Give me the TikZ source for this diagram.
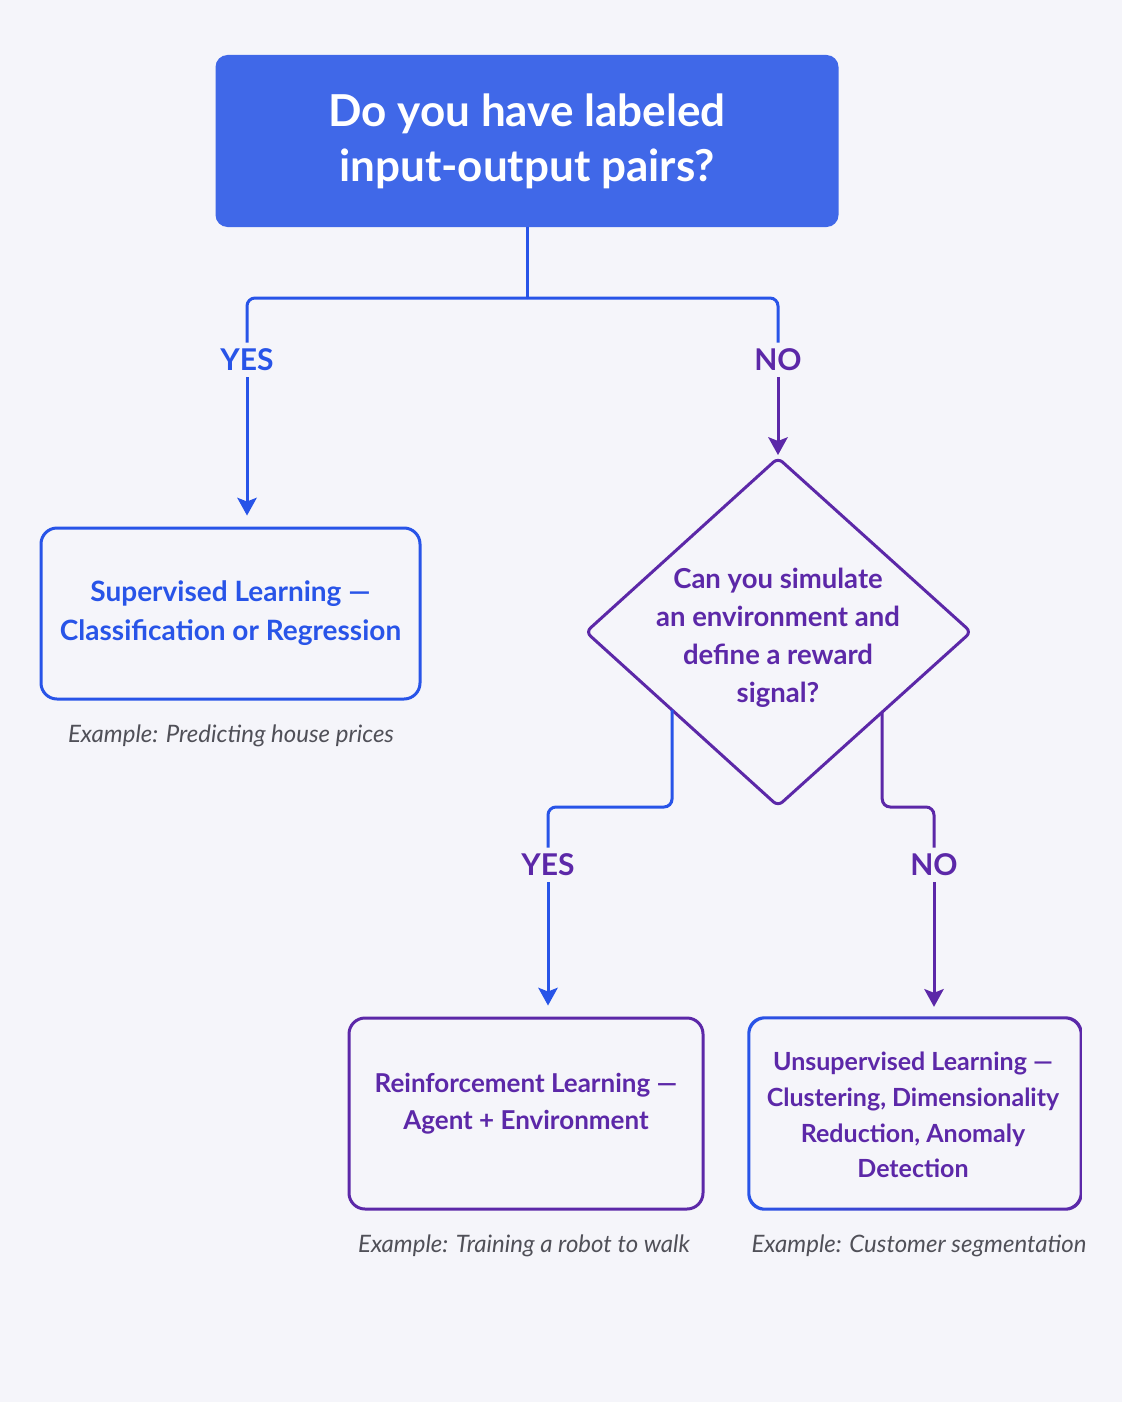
\documentclass[tikz,border=0pt]{standalone}
\usepackage{fontspec}
\setmainfont{Lato}
\usetikzlibrary{arrows.meta,calc}
\definecolor{bg}{RGB}{245,245,250}
\definecolor{topblue}{RGB}{64,104,232}
\definecolor{bblue}{RGB}{40,84,232}
\definecolor{purp}{RGB}{92,40,168}
\definecolor{capgray}{RGB}{80,80,88}
\tikzset{
  conn/.style={line width=3pt},
  arr/.style={line width=3pt,-{Stealth[length=18pt,width=20pt,inset=4pt,line width=0pt]},shorten >=11pt},
  lbl/.style={font=\bfseries\fontsize{30}{32}\selectfont, inner sep=6pt},
  resbox/.style={rounded corners=16pt, line width=3pt, minimum height=191pt, align=center},
  capt/.style={font=\itshape\fontsize{24}{28}\selectfont, text=capgray}
}
\begin{document}
\begin{tikzpicture}[x=1pt,y=-1pt]
\fill[bg] (0,0) rectangle (1122,1402);
\useasboundingbox (0,0) rectangle (1122,1402);

% top question
\node[fill=topblue, rounded corners=12pt, minimum width=623pt, minimum height=172pt,
      text=white, align=center, font=\bfseries\fontsize{44}{55}\selectfont] (q1) at (527,141)
      {Do you have labeled\\input-output pairs?};

% labels
\node[lbl, text=bblue] (yes1) at (247,360) {YES};
\node[lbl, text=purp] (no1) at (778,360) {NO};
\node[lbl, text=purp] (yes2) at (548,865) {YES};
\node[lbl, text=purp] (no2) at (934,865) {NO};

% supervised box
\node[resbox, draw=bblue, text=bblue, minimum width=379pt, minimum height=171pt,
      font=\bfseries\fontsize{28}{39}\selectfont] (sup) at (230.5,613.5)
      {Supervised Learning —\\Classification or Regression};
\node[capt] (c1) at (231,736) {Example: Predicting house prices};

% diamond
\coordinate (dtop) at (778,458);
\coordinate (dright) at (971,632);
\coordinate (dbottom) at (778,806);
\coordinate (dleft) at (586,632);
\draw[purp, line width=3pt, rounded corners=6pt] (dtop) -- (dright) -- (dbottom) -- (dleft) -- cycle;
\node[text=purp, align=center, font=\bfseries\fontsize{27.5}{38}\selectfont] (dq) at (778,638)
      {Can you simulate\\an environment and\\define a reward\\signal?};
\coordinate (dexl) at ($(dleft)!0.448!(dbottom)$);
\coordinate (dexr) at ($(dright)!0.46!(dbottom)$);

% reinforcement box
\node[resbox, draw=purp, minimum width=354pt] (rl) at (526,1113.5) {};
\node[text=purp, align=center, font=\bfseries\fontsize{26}{37}\selectfont] (rlt) at (526,1104)
      {Reinforcement Learning —\\Agent + Environment};
\node[capt] (c2) at (524,1246) {Example: Training a robot to walk};

% unsupervised box
\node[minimum width=332pt, minimum height=191pt, inner sep=0pt] (uns) at (915,1113.5) {};
\shade[left color=bblue, right color=purp, even odd rule]
  {[rounded corners=17pt] ($(uns.north west)+(-1.5,-1.5)$) rectangle ($(uns.south east)+(1.5,1.5)$)}
  {[rounded corners=15pt] ($(uns.north west)+(1.5,1.5)$) rectangle ($(uns.south east)+(-1.5,-1.5)$)};
\node[text=purp, align=center, font=\bfseries\fontsize{25}{35.7}\selectfont] (unst) at (913,1115)
      {Unsupervised Learning —\\Clustering, Dimensionality\\Reduction, Anomaly\\Detection};
\node[capt] (c3) at (919,1246) {Example: Customer segmentation};

% connectors from top
\draw[conn, bblue] (q1.south) -- (q1.south |- 0,298) coordinate (split);
\draw[conn, bblue, rounded corners=8pt] (split) -| (yes1.north);
\draw[conn, bblue, rounded corners=8pt] (split) -| (no1.north);
\draw[arr, bblue] (yes1.south) -- (yes1.south |- sup.north);
\draw[arr, purp, shorten >=3pt] (no1.south) -- (dtop);

% connectors from diamond
\draw[conn, bblue, rounded corners=8pt] (dexl) |- (548,807) -- (yes2.north);
\draw[conn, purp, rounded corners=8pt] (dexr) |- (934,807) -- (no2.north);
\draw[arr, bblue] (yes2.south) -- (yes2.south |- rl.north);
\draw[arr, purp] (no2.south) -- (no2.south |- uns.north);
\end{tikzpicture}
\end{document}
